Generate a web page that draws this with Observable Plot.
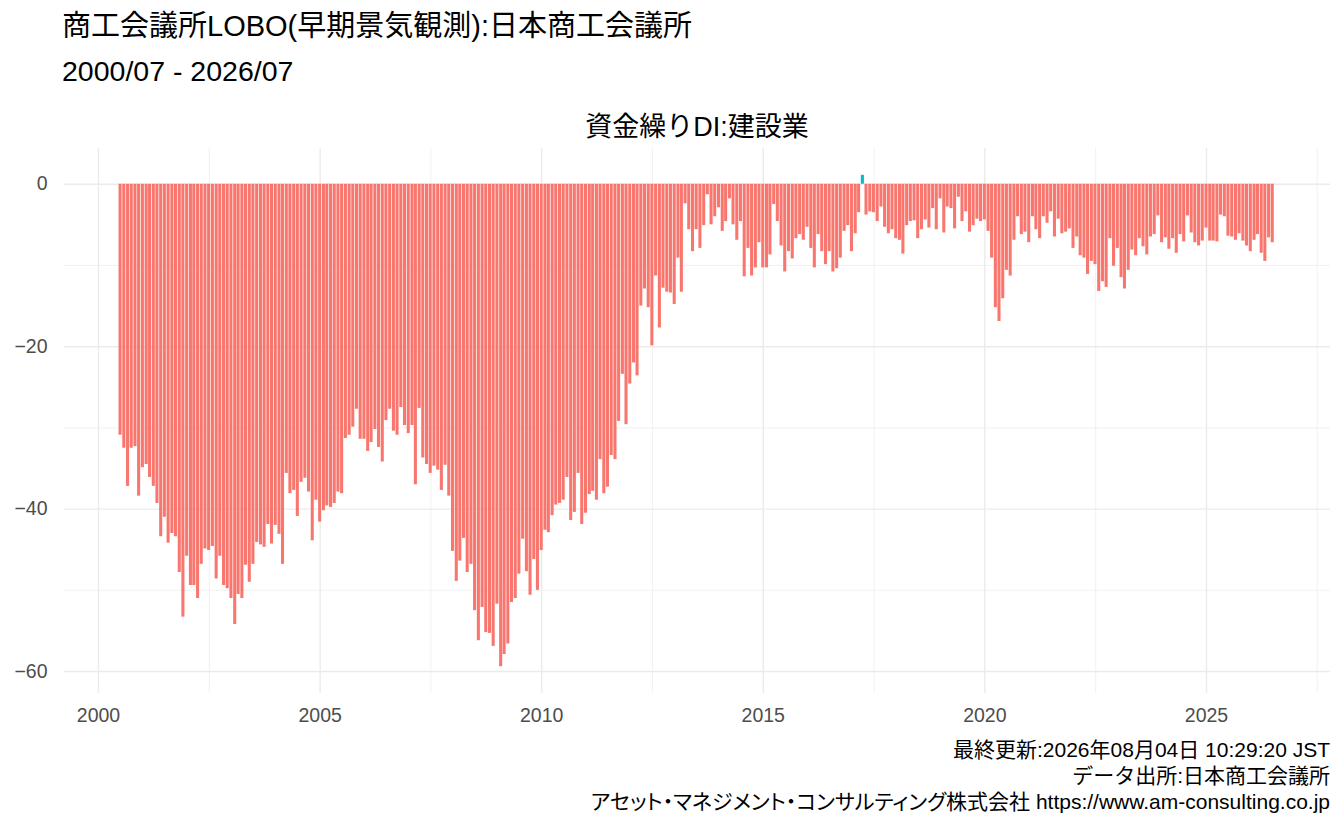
<!DOCTYPE html>
<html><head><meta charset="utf-8">
<script src="https://cdn.jsdelivr.net/npm/d3@7"></script>
<script src="https://cdn.jsdelivr.net/npm/@observablehq/plot@0.6"></script>
<style>
body{margin:0;background:#fff;font-family:"Liberation Sans","Noto Sans CJK JP",sans-serif;}
#wrap{position:relative;width:1344px;height:830px;overflow:hidden;background:#fff}
.t{position:absolute;white-space:nowrap;color:#000;line-height:1}
#cap div{height:26px}
#cap div.p{font-feature-settings:"palt" 1}
</style></head><body>
<div id="wrap">
  <div class="t" style="left:62px;top:12px;font-size:29px">商工会議所LOBO(早期景気観測):日本商工会議所</div>
  <div class="t" style="left:62px;top:57px;font-size:28.5px">2000/07 - 2026/07</div>
  <div class="t" style="left:64px;width:1266px;text-align:center;top:114px;font-size:27px">資金繰りDI:建設業</div>
  <div id="chart" style="position:absolute;left:0;top:140px"></div>
  <div class="t" id="cap" style="right:14px;top:737px;font-size:21px;text-align:right;line-height:26px"></div>
</div>
<script>
// ---- data ----
const startMonth = "2000-07";
const endMonth = "2026-07";
const values = [
  // 2000 (Jul-Dec)
  -30.9,-32.5,-37.2,-32.5,-32.3,-38.4,
  // 2001
  -34.9,-34.5,-36.1,-37.2,-39.3,-43.4,-41.0,-44.2,-43.0,-43.4,-47.8,-53.3,
  // 2002
  -45.8,-49.4,-49.4,-51.0,-46.8,-44.9,-45.1,-44.6,-48.6,-45.8,-49.4,-49.8,
  // 2003
  -51.0,-54.2,-50.5,-51.0,-46.9,-49.0,-46.8,-44.1,-44.4,-44.7,-41.9,-44.3,
  // 2004
  -42.0,-43.1,-46.8,-35.6,-38.1,-37.7,-40.9,-36.7,-36.2,-37.9,-43.9,-38.9,
  // 2005
  -41.6,-40.2,-39.6,-39.8,-39.3,-37.9,-38.1,-31.3,-30.9,-29.9,-27.7,-31.4,
  // 2006
  -31.4,-32.9,-31.8,-30.2,-32.4,-34.2,-29.1,-27.7,-30.4,-30.9,-27.5,-29.7,
  // 2007
  -30.7,-29.7,-37.0,-27.6,-33.7,-34.5,-35.6,-34.7,-35.2,-37.7,-34.6,-38.4,
  // 2008
  -45.2,-48.9,-46.4,-43.6,-47.8,-46.8,-52.5,-56.2,-52.1,-55.2,-55.3,-56.9,
  // 2009
  -51.7,-59.4,-57.9,-56.6,-51.5,-51.0,-48.0,-43.7,-47.7,-50.6,-46.2,-50.0,
  // 2010
  -45.1,-42.6,-42.9,-40.8,-39.5,-39.3,-38.9,-36.1,-41.4,-40.4,-35.6,-41.9,
  // 2011
  -40.5,-38.2,-37.8,-38.9,-33.9,-38.1,-37.3,-33.4,-33.9,-29.2,-23.4,-29.6,
  // 2012
  -24.6,-22.0,-23.6,-15.0,-12.9,-15.2,-19.9,-11.3,-17.7,-12.8,-13.3,-13.4,
  // 2013
  -14.8,-9.1,-13.3,-2.4,-5.6,-8.3,-5.6,-7.9,-5.1,-1.3,-5.0,-4.0,
  // 2014
  -2.9,-5.8,-4.6,-1.8,-5.0,-6.9,-4.6,-11.4,-7.9,-11.3,-10.3,-7.2,
  // 2015
  -10.3,-10.3,-8.7,-2.5,-4.6,-7.6,-10.8,-8.3,-9.2,-6.7,-6.2,-6.9,
  // 2016
  -5.3,-7.9,-10.3,-6.2,-8.3,-9.9,-8.3,-10.8,-10.4,-9.1,-5.8,-5.1,
  // 2017
  -8.3,-6.1,-3.5,1.1,-3.8,-3.4,-3.5,-4.6,-2.8,-5.3,-6.1,-5.6,
  // 2018
  -6.7,-6.9,-8.6,-5.1,-4.6,-4.5,-6.7,-5.6,-4.4,-5.4,-3.0,-5.6,
  // 2019
  -1.8,-6.0,-2.8,-3.0,-5.5,-1.6,-4.6,-3.4,-5.9,-5.1,-4.3,-4.6,
  // 2020
  -4.4,-5.8,-9.1,-15.2,-16.9,-14.1,-10.6,-11.3,-6.9,-4.0,-6.2,-5.9,
  // 2021
  -7.2,-4.0,-5.6,-6.7,-4.0,-4.8,-3.4,-6.5,-4.3,-6.1,-5.9,-5.5,
  // 2022
  -7.9,-6.5,-8.8,-9.1,-11.1,-9.5,-9.9,-13.2,-12.0,-12.7,-6.7,-10.1,
  // 2023
  -7.9,-11.5,-12.9,-10.6,-8.1,-8.8,-6.7,-7.7,-8.7,-6.5,-6.2,-3.9,
  // 2024
  -7.2,-6.6,-8.0,-6.7,-8.5,-6.2,-7.1,-3.9,-6.0,-7.2,-7.6,-7.0,
  // 2025
  -5.4,-7.0,-7.0,-7.1,-3.8,-4.0,-6.4,-6.5,-6.9,-6.1,-7.0,-7.6,
  // 2026 (Jan-Jul)
  -8.3,-6.9,-6.2,-8.5,-9.5,-6.6,-7.2
];
const yTicks = [-60, -40, -20, 0];
const yMinor = [-50, -30, -10];
const xTickYears = [2000, 2005, 2010, 2015, 2020, 2025];
const xMinorYears = [2002.5, 2007.5, 2012.5, 2017.5, 2022.5, 2027.5];
const captionLines = [
  "最終更新:2026年08月04日 10:29:20 JST",
  "データ出所:日本商工会議所",
  "アセット・マネジメント・コンサルティング株式会社 https://www.am-consulting.co.jp"
];
const barColors = {neg: "#F8766D", pos: "#00BFC4"};

// ---- build ----
const cap = document.getElementById("cap");
captionLines.forEach((t, i) => {
  const d = document.createElement("div");
  d.textContent = t;
  if (i === 2) d.className = "p";
  cap.appendChild(d);
});
const parse = d3.utcParse("%Y-%m");
const months = d3.utcMonth.range(parse(startMonth), d3.utcMonth.offset(parse(endMonth), 1));
const halfW = 12.6 * 864e5;
const data = months.map((m, i) => ({date: m, x1: new Date(+m - halfW), x2: new Date(+m + halfW), value: values[i], sign: values[i] > 0 ? "pos" : "neg"}));
const yearDate = y => new Date(Date.UTC(Math.floor(y), 0, 1) + (y % 1) * 365.25 * 864e5);

const grid = "#EBEBEB";
const plot = Plot.plot({
  width: 1344,
  height: 600,
  marginTop: 8,
  marginBottom: 47,
  marginLeft: 64,
  marginRight: 14,
  style: {fontFamily: '"Liberation Sans","Noto Sans CJK JP",sans-serif', fontSize: "19.5px", color: "#4D4D4D", background: "#fff"},
  x: {type: "utc", domain: [new Date("1999-03-27"), new Date("2027-10-20")]},
  y: {domain: [-62.7, 4.4]},
  color: {domain: ["neg", "pos"], range: [barColors.neg, barColors.pos]},
  marks: [
    Plot.ruleY(yMinor, {stroke: grid, strokeWidth: 0.7}),
    Plot.ruleX(xMinorYears.map(yearDate), {stroke: grid, strokeWidth: 0.7}),
    Plot.ruleY(yTicks, {stroke: grid, strokeWidth: 1.4}),
    Plot.ruleX(xTickYears.map(yearDate), {stroke: grid, strokeWidth: 1.4}),
    Plot.rect(data, {x1: "x1", x2: "x2", y1: () => 0, y2: "value", fill: "sign"}),
    Plot.axisY(yTicks, {tickSize: 0, tickPadding: 17, fontSize: 19.5, fill: "#4D4D4D", label: null}),
    Plot.axisX(xTickYears.map(yearDate), {tickSize: 0, tickPadding: 15, fontSize: 19.5, fill: "#4D4D4D", tickFormat: d3.utcFormat("%Y"), label: null})
  ]
});
document.getElementById("chart").appendChild(plot);
</script>
</body></html>
